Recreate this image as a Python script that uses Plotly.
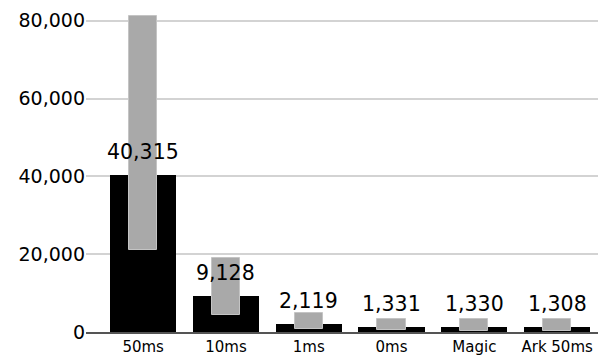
import plotly.graph_objects as go

categories = ["50ms", "10ms", "1ms", "0ms", "Magic", "Ark 50ms"]
mean_values = [40315, 9128, 2119, 1331, 1330, 1308]
range_low = [21100, 4300, 700, 450, 350, 350]
range_high = [81300, 19000, 4900, 3270, 3270, 3270]
y_ticks = [0, 20000, 40000, 60000, 80000]

fig = go.Figure()
fig.add_trace(go.Bar(
    x=categories, y=mean_values, width=0.8,
    marker=dict(color="black", line=dict(width=0)),
    showlegend=False, hoverinfo="skip",
))
fig.add_trace(go.Bar(
    x=categories,
    y=[h - l for h, l in zip(range_high, range_low)],
    base=range_low, width=0.34,
    marker=dict(color="#a9a9a9", line=dict(color="#c4c4c4", width=1)),
    showlegend=False, hoverinfo="skip",
))
for c, v in zip(categories, mean_values):
    fig.add_annotation(x=c, y=v, text=f"{v:,}", showarrow=False,
                       yanchor="bottom", yshift=9,
                       font=dict(size=20.5, color="black", family="DejaVu Sans"))

# page body has an 8px default margin, so the figure is sized to fit
fig.update_layout(
    width=598, height=348,
    margin=dict(l=78, r=0, t=5, b=24),
    paper_bgcolor="white", plot_bgcolor="white",
    barmode="overlay", bargap=0,
    font=dict(family="DejaVu Sans", color="black"),
)
fig.update_xaxes(
    range=[-0.69, 5.59], showgrid=False, automargin=False,
    showline=True, linecolor="#555555", linewidth=2,
    ticks="", tickfont=dict(size=15, color="black"),
)
fig.update_yaxes(
    range=[0, 82000], tickvals=y_ticks, tickformat=",", automargin=False,
    showgrid=True, gridcolor="#d3d3d3", gridwidth=2,
    zeroline=False, showline=False, ticks="",
    tickfont=dict(size=19, color="black"),
)
fig.write_html("out.html", config={"displayModeBar": False})
